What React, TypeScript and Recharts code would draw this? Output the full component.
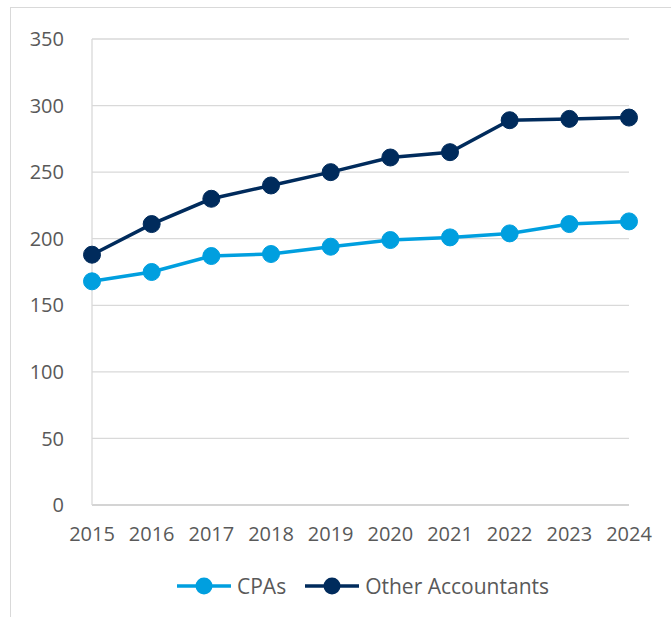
import React from "react";
import { LineChart, Line, XAxis, YAxis, CartesianGrid, Legend } from "recharts";

const years = ["2015", "2016", "2017", "2018", "2019", "2020", "2021", "2022", "2023", "2024"];
const cpas = [168, 175, 187, 188.5, 194, 199, 201, 204, 211, 213];
const otherAccountants = [188, 211, 230, 240, 250, 261, 265, 289, 290, 291];
const yTicks = [0, 50, 100, 150, 200, 250, 300, 350];

const CPA_COLOR = "#009FDF";
const OTHER_COLOR = "#002B5C";
const FONT = "'Open Sans', sans-serif";

const data = years.map((y, i) => ({ year: y, cpas: cpas[i], other: otherAccountants[i] }));

const legendItems = [
  { name: "CPAs", color: CPA_COLOR },
  { name: "Other Accountants", color: OTHER_COLOR },
];

const LegendContent = () => (
  <div style={{ display: "flex", justifyContent: "flex-start", alignItems: "center", paddingLeft: 176, fontFamily: FONT, fontSize: 21, color: "#595959" }}>
    {legendItems.map((it, i) => (
      <div key={it.name} style={{ display: "flex", alignItems: "center", marginLeft: i === 0 ? 0 : 18 }}>
        <svg width={56} height={20} style={{ display: "block" }}>
          <line x1={1} y1={10} x2={55} y2={10} stroke={it.color} strokeWidth={3.5} />
          <circle cx={28} cy={10} r={8.5} fill={it.color} />
        </svg>
        <span style={{ marginLeft: 5 }}>{it.name}</span>
      </div>
    ))}
  </div>
);

export default function App() {
  return (
    <div style={{ position: "absolute", left: 0, top: 0, width: 671, height: 617, overflow: "hidden", background: "#fff" }}>
      <div style={{ position: "absolute", left: 10, top: 7, width: 800, height: 800, border: "1.5px solid #d9d9d9", boxSizing: "border-box" }} />
      <div style={{ position: "absolute", left: 0, top: 0 }}>
        <LineChart width={671} height={617} data={data} margin={{ top: 39, right: 42, left: 0, bottom: 0 }}>
          <CartesianGrid vertical={false} stroke="#d9d9d9" strokeWidth={1.3} />
          <XAxis
            dataKey="year"
            height={112}
            tickLine={false}
            tickSize={0}
            tickMargin={22}
            axisLine={{ stroke: "#cfcfcf", strokeWidth: 1.3 }}
            tick={{ fill: "#595959", fontSize: 20, fontFamily: FONT }}
            interval={0}
          />
          <YAxis
            width={92}
            domain={[0, 350]}
            ticks={yTicks}
            tickLine={false}
            tickSize={0}
            tickMargin={28}
            axisLine={{ stroke: "#d9d9d9", strokeWidth: 1.3 }}
            tick={{ fill: "#595959", fontSize: 20, fontFamily: FONT }}
          />
          <Legend
            verticalAlign="middle"
            align="center"
            content={<LegendContent />}
            wrapperStyle={{ position: "absolute", top: 572, left: 0, width: 671, height: 28 }}
          />
          <Line
            type="linear"
            dataKey="cpas"
            name="CPAs"
            stroke={CPA_COLOR}
            strokeWidth={3.5}
            dot={{ r: 8.5, fill: CPA_COLOR, stroke: CPA_COLOR, strokeWidth: 1 }}
            activeDot={false}
            isAnimationActive={false}
          />
          <Line
            type="linear"
            dataKey="other"
            name="Other Accountants"
            stroke={OTHER_COLOR}
            strokeWidth={3.5}
            dot={{ r: 8.5, fill: OTHER_COLOR, stroke: OTHER_COLOR, strokeWidth: 1 }}
            activeDot={false}
            isAnimationActive={false}
          />
        </LineChart>
      </div>
    </div>
  );
}
